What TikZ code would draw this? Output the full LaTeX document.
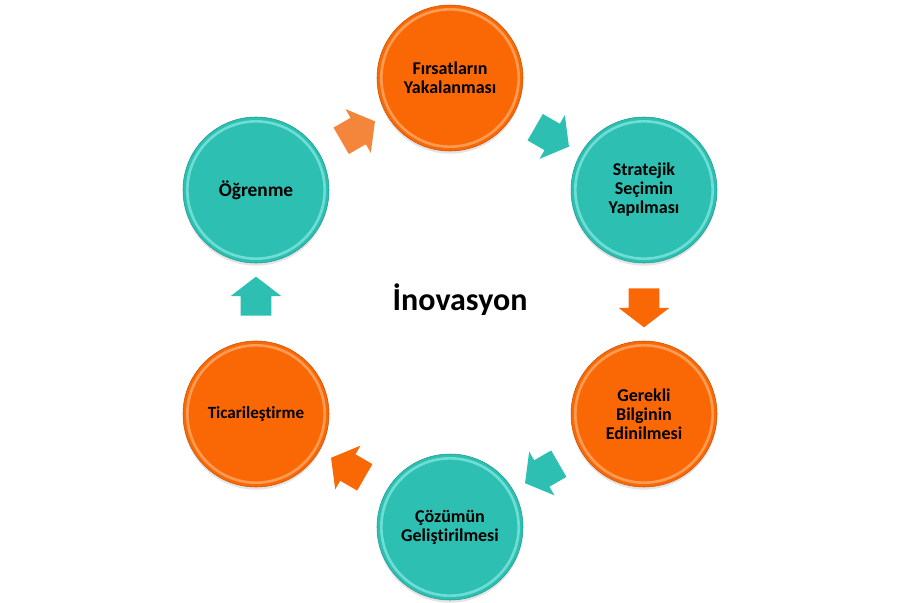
\documentclass[tikz,border=0pt]{standalone}
\usepackage{fontspec}
\setmainfont{Carlito}[Ligatures=NoCommon]
\usetikzlibrary{shapes.arrows,calc,shadows}
\definecolor{Tangerine}{RGB}{250,104,6}
\definecolor{TangerineRim}{RGB}{255,156,84}
\definecolor{Peach}{RGB}{243,134,58}
\definecolor{Teal}{RGB}{44,191,178}
\definecolor{TealRim}{RGB}{110,222,212}

\tikzset{
  stage/.style={circle, minimum size=109.5pt, inner sep=0pt, align=center,
    font=\bfseries\fontsize{13.5}{14.3}\selectfont,
    drop shadow={opacity=0.22, shadow xshift=0pt, shadow yshift=-2pt}},
  orangestage/.style={stage, fill=Tangerine, draw=Tangerine!80!black, line width=0.4pt,
    path picture={\draw[TangerineRim, line width=2pt]
      (path picture bounding box.center) circle (51.5pt);}},
  tealstage/.style={stage, fill=Teal, draw=Teal!80!black, line width=0.4pt,
    path picture={\draw[TealRim, line width=2pt]
      (path picture bounding box.center) circle (51.5pt);}},
  flow/.style={single arrow, draw=none, inner sep=0pt,
    text height=11.25pt, text depth=11.25pt, text width=0pt,
    minimum height=29.25pt, minimum width=37.5pt,
    single arrow head extend=7.5pt, single arrow tip angle=105}
}

\begin{document}
\begin{tikzpicture}[x=0.75pt, y=-0.75pt]
  \useasboundingbox (0,0) rectangle (900,603);

  % stages of the cycle (clockwise from top)
  \node[orangestage] (firsat)   at (450,78)  {Fırsatların\\Yakalanması};
  \node[tealstage]   (strateji) at (644,190) {Stratejik\\Seçimin\\Yapılması};
  \node[orangestage] (gerekli)  at (644,414) {Gerekli\\Bilginin\\Edinilmesi};
  \node[tealstage]   (cozum)    at (450,527) {Çözümün\\Geliştirilmesi};
  \node[orangestage, font=\bfseries\fontsize{12.8}{14}\selectfont]
                     (ticari)   at (256,414) {Ticarileştirme};
  \node[tealstage, font=\bfseries\fontsize{14.5}{15}\selectfont]
                     (ogrenme)  at (256,190) {Öğrenme};

  % centre label
  \node[font=\bfseries\fontsize{24}{28}\selectfont] (hub) at (460,300) {İnovasyon};

  % block arrows between the stages
  \node[flow, fill=Teal, rotate=-30]      (a1) at ($(firsat)!0.5!(strateji)$) {};
  \node[flow, fill=Tangerine, rotate=-90] (a2) at ($(strateji)!0.5!(gerekli)$) {};
  \node[flow, fill=Teal, rotate=-150]     (a3) at ($(gerekli)!0.5!(cozum)$) {};
  \node[flow, fill=Tangerine, rotate=150] (a4) at ($(cozum)!0.5!(ticari)$) {};
  \node[flow, fill=Teal, rotate=90]       (a5) at ($(ticari)!0.5!(ogrenme)$) {};
  \node[flow, fill=Peach, rotate=30]      (a6) at ($(ogrenme)!0.5!(firsat)$) {};
\end{tikzpicture}
\end{document}
